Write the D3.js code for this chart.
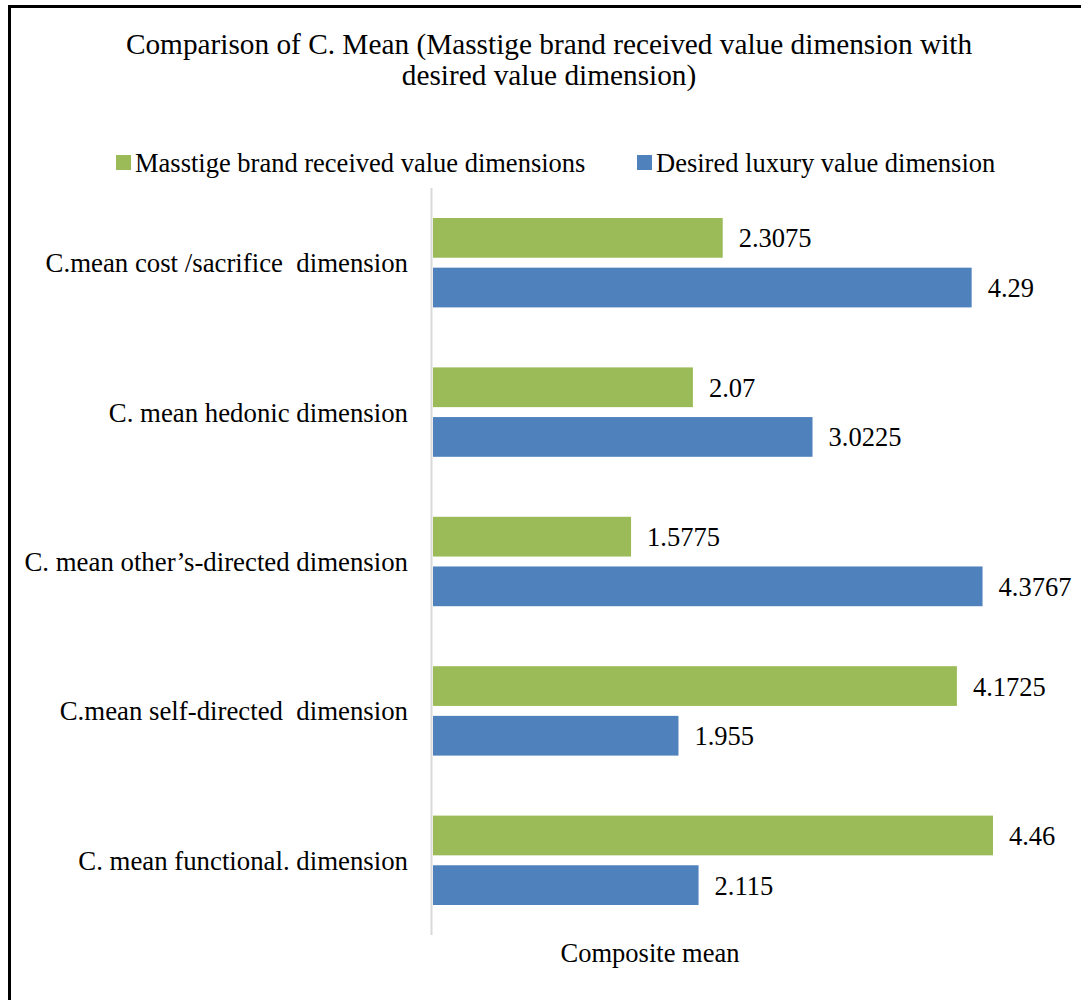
<!DOCTYPE html>
<html><head><meta charset="utf-8">
<script src="https://cdn.jsdelivr.net/npm/d3@7"></script>
<style>body{margin:0;background:#fff}svg{display:block}</style>
</head><body>
<script>
const categories = ["C.mean cost /sacrifice  dimension","C. mean hedonic dimension","C. mean other\u2019s-directed dimension","C.mean self-directed  dimension","C. mean functional. dimension"];
const seriesNames = ["Masstige brand received value dimensions","Desired luxury value dimension"];
const masstige = [2.3075, 2.07, 1.5775, 4.1725, 4.46];
const desired = [4.29, 3.0225, 4.3767, 1.955, 2.115];
const valueLabels = [["2.3075","2.07","1.5775","4.1725","4.46"],["4.29","3.0225","4.3767","1.955","2.115"]];
const colors = ["#9BBB59","#4F81BD"];
const titleLines = ["Comparison of C. Mean (Masstige brand received value dimension with","desired value dimension)"];
const axisTitle = "Composite mean";

const FF="Liberation Serif";
const W=1081,H=1000;
const svg=d3.select("body").append("svg").attr("width",W).attr("height",H);
svg.append("rect").attr("x",9.5).attr("y",6.5).attr("width",1100).attr("height",1100).attr("fill","#fff").attr("stroke","#000").attr("stroke-width",3);

svg.append("g").selectAll("text").data(titleLines).join("text")
  .attr("x",549).attr("y",(d,i)=>54+i*31).attr("text-anchor","middle")
  .attr("font-family",FF).attr("font-size",29.3).text(d=>d);

const x=d3.scaleLinear().domain([0,5]).range([433,433+627.8]);
const y0=d3.scaleBand().domain(categories).range([188,935]).paddingInner(0).paddingOuter(0);
const y1=d3.scaleBand().domain([0,1]).range([30,y0.bandwidth()-30]).paddingInner(0.2);

const series=[masstige,desired];
series.forEach((vals,si)=>{
  const g=svg.append("g");
  g.selectAll("rect").data(vals).join("rect")
    .attr("x",x(0)).attr("y",(d,i)=>y0(categories[i])+y1(si))
    .attr("width",d=>x(d)-x(0)).attr("height",y1.bandwidth()).attr("fill",colors[si]);
  g.selectAll("text").data(vals).join("text")
    .attr("x",d=>x(d)+16).attr("y",(d,i)=>y0(categories[i])+y1(si)+y1.bandwidth()/2+9.5)
    .attr("font-family",FF).attr("font-size",26.5).text((d,i)=>valueLabels[si][i]);
});

svg.append("line").attr("x1",431.5).attr("x2",431.5).attr("y1",188).attr("y2",935).attr("stroke","#d9d9d9").attr("stroke-width",2);

svg.append("g").selectAll("text").data(categories).join("text")
  .attr("x",408).attr("y",d=>y0(d)+y0.bandwidth()/2+9.5).attr("text-anchor","end")
  .attr("font-family",FF).attr("font-size",26.8).attr("xml:space","preserve").style("white-space","pre").text(d=>d);

const lx=[116,637];
const lg=svg.append("g");
seriesNames.forEach((n,i)=>{
  lg.append("rect").attr("x",lx[i]).attr("y",155).attr("width",15).attr("height",15).attr("fill",colors[i]);
  lg.append("text").attr("x",lx[i]+19).attr("y",172).attr("font-family",FF).attr("font-size",26.5).text(n);
});

svg.append("text").attr("x",650).attr("y",962).attr("text-anchor","middle").attr("font-family",FF).attr("font-size",26.5).text(axisTitle);
</script>
</body></html>
